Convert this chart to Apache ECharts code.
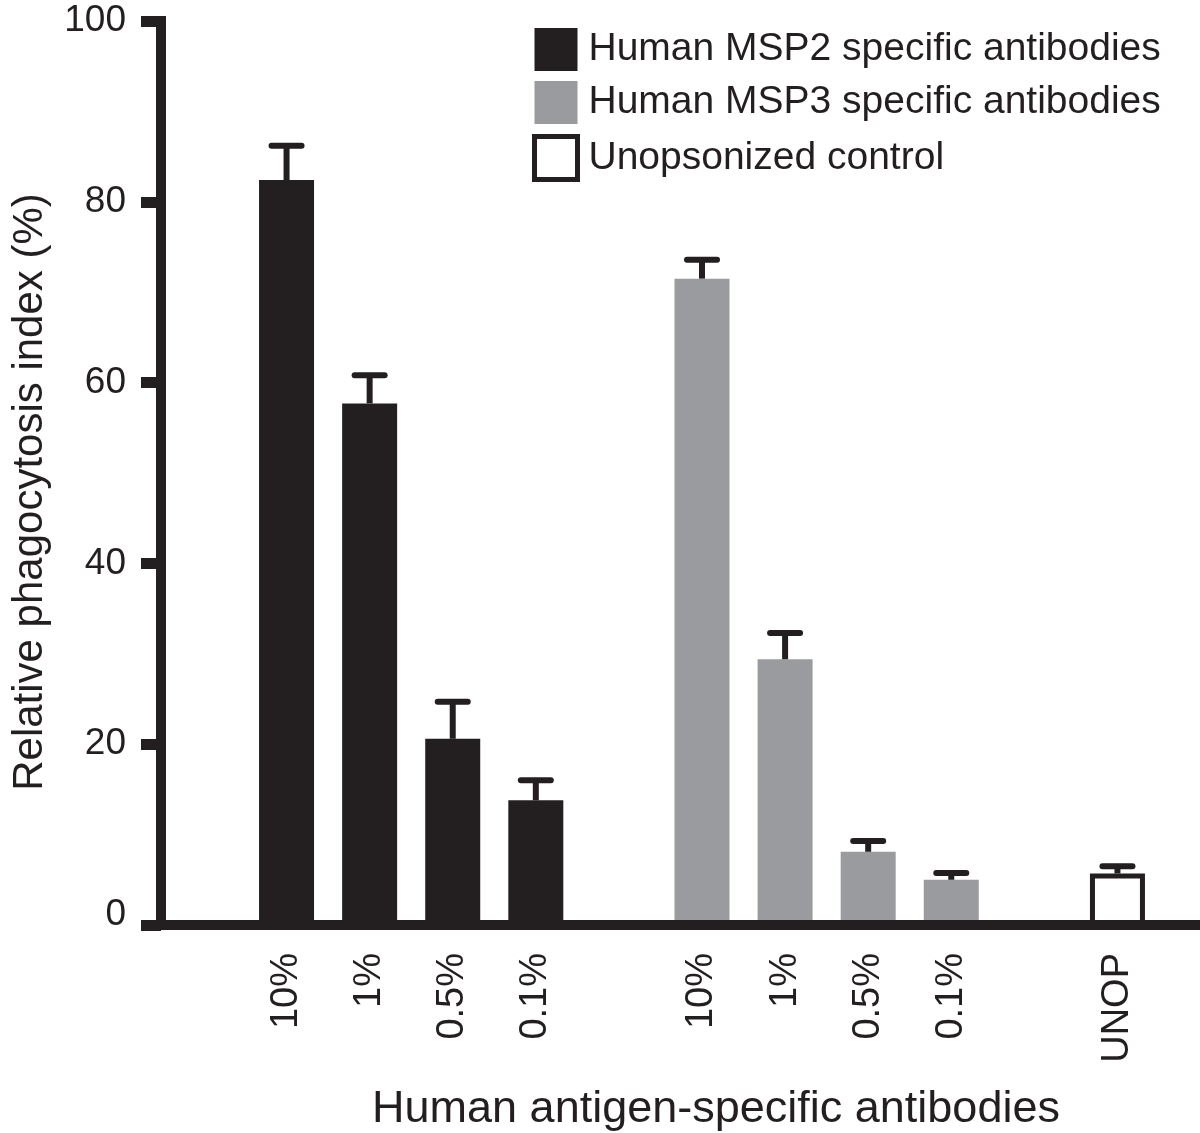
<!DOCTYPE html>
<html>
<head>
<meta charset="utf-8">
<script src="https://cdn.jsdelivr.net/npm/echarts@6/dist/echarts.min.js"></script>
<style>
  html, body { margin: 0; padding: 0; background: #fff; }
  #chart { width: 1200px; height: 1133px; }
</style>
</head>
<body>
<div id="chart"></div>
<script>
// ---- data ----
const categories = ['10%', '1%', '0.5%', '0.1%', '', '10%', '1%', '0.5%', '0.1%', '', 'UNOP'];
const msp2Index = [0, 1, 2, 3];
const msp2Values = [82.4, 57.7, 20.6, 13.8];
const msp2Sem = [3.8, 3.1, 4.1, 2.2];
const msp3Index = [5, 6, 7, 8];
const msp3Values = [71.5, 29.4, 8.1, 5.0];
const msp3Sem = [2.1, 2.9, 1.2, 0.75];
const unopIndex = [10];
const unopValues = [5.7];
const unopSem = [0.8];
const yTicks = [0, 20, 40, 60, 80, 100];
const seriesNames = ['Human MSP2 specific antibodies', 'Human MSP3 specific antibodies', 'Unopsonized control'];
const xTitle = 'Human antigen-specific antibodies';
const yTitle = 'Relative phagocytosis index (%)';

// ---- build ----
const INK = '#231f20';
const GREY = '#9a9b9f';
const FONT = "'Liberation Sans', Arial, Helvetica, sans-serif";

function spread(idx, vals) {
  const arr = categories.map(() => '-');
  idx.forEach((k, i) => { arr[k] = vals[i]; });
  return arr;
}
const errData = [];
[[msp2Index, msp2Values, msp2Sem], [msp3Index, msp3Values, msp3Sem], [unopIndex, unopValues, unopSem]]
  .forEach(([idx, vals, sem]) => idx.forEach((k, i) => errData.push([k, vals[i], sem[i]])));

function renderErr(params, api) {
  const x = api.value(0), v = api.value(1), e = api.value(2);
  const base = api.coord([x, v]);
  const top = api.coord([x, v + e]);
  const half = 15;
  return {
    type: 'group',
    children: [
      { type: 'line', shape: { x1: base[0], y1: base[1], x2: top[0], y2: top[1] },
        style: { stroke: INK, lineWidth: 6 } },
      { type: 'line', shape: { x1: top[0] - half, y1: top[1], x2: top[0] + half, y2: top[1] },
        style: { stroke: INK, lineWidth: 6, lineCap: 'round' } }
    ]
  };
}

const chart = echarts.init(document.getElementById('chart'), null, { renderer: 'canvas' });
const option = {
  backgroundColor: '#fff',
  animation: false,
  textStyle: { fontFamily: FONT, color: INK },
  grid: [
    { left: 161, right: 0, top: 21, bottom: 208 },
    { left: 245, right: 41, top: 21, bottom: 208 }
  ],
  xAxis: [
    { gridIndex: 0, type: 'value', min: 0, max: 1, z: 10,
      axisLine: { show: true, lineStyle: { color: INK, width: 10, cap: 'square' } },
      axisTick: { show: false }, axisLabel: { show: false }, splitLine: { show: false } },
    { gridIndex: 1, type: 'category', data: categories,
      axisLine: { show: false }, axisTick: { show: false }, splitLine: { show: false },
      axisLabel: { interval: 0, rotate: 90, margin: 28, fontSize: 38, color: INK, fontFamily: FONT } }
  ],
  yAxis: [
    { gridIndex: 0, type: 'value', min: yTicks[0], max: yTicks[yTicks.length - 1], interval: 20, z: 10,
      axisLine: { show: true, lineStyle: { color: INK, width: 10, cap: 'square' } },
      axisTick: { show: true, length: 20, lineStyle: { color: INK, width: 11, cap: 'butt' } },
      splitLine: { show: false },
      axisLabel: { margin: 35, fontSize: 37, color: INK, fontFamily: FONT,
        formatter: v => v === 0 ? '{z|0}' : String(v),
        rich: { z: { fontSize: 37, color: INK, fontFamily: FONT, padding: [0, 0, 20, 0] } } } },
    { gridIndex: 1, type: 'value', min: yTicks[0], max: yTicks[yTicks.length - 1], show: false, splitLine: { show: false } }
  ],
  legend: {
    orient: 'vertical', left: 532, top: 28, padding: 0,
    itemWidth: 43, itemHeight: 43, itemGap: 10, selectedMode: false,
    icon: 'rect',
    textStyle: { fontSize: 39, color: INK, fontFamily: FONT, lineHeight: 43, padding: [0, 0, 0, 6] },
    data: [
      { name: seriesNames[0], itemStyle: { color: INK, borderWidth: 0 } },
      { name: seriesNames[1], itemStyle: { color: GREY, borderWidth: 0 } },
      { name: seriesNames[2], itemStyle: { color: '#fff', borderColor: INK, borderWidth: 5 } }
    ]
  },
  graphic: [
    { type: 'text', x: 716, y: 1110, style: { text: xTitle, fontSize: 45, fontFamily: FONT, fill: INK, textAlign: 'center', textVerticalAlign: 'middle' } },
    { type: 'text', x: 30, y: 492, rotation: Math.PI / 2, style: { text: yTitle, fontSize: 42, fontFamily: FONT, fill: INK, textAlign: 'center', textVerticalAlign: 'middle' } }
  ],
  series: [
    { name: seriesNames[0], type: 'bar', xAxisIndex: 1, yAxisIndex: 1, barWidth: 55, barGap: '-100%',
      data: spread(msp2Index, msp2Values), itemStyle: { color: INK } },
    { name: seriesNames[1], type: 'bar', xAxisIndex: 1, yAxisIndex: 1, barWidth: 55, barGap: '-100%',
      data: spread(msp3Index, msp3Values), itemStyle: { color: GREY } },
    { name: seriesNames[2], type: 'bar', xAxisIndex: 1, yAxisIndex: 1, barWidth: 55, barGap: '-100%',
      data: spread(unopIndex, unopValues), itemStyle: { color: '#fff', borderColor: INK, borderWidth: 5 } },
    { name: 'SEM', type: 'custom', xAxisIndex: 1, yAxisIndex: 1, z: 5,
      data: errData, renderItem: renderErr }
  ]
};
chart.setOption(option);
</script>
</body>
</html>
